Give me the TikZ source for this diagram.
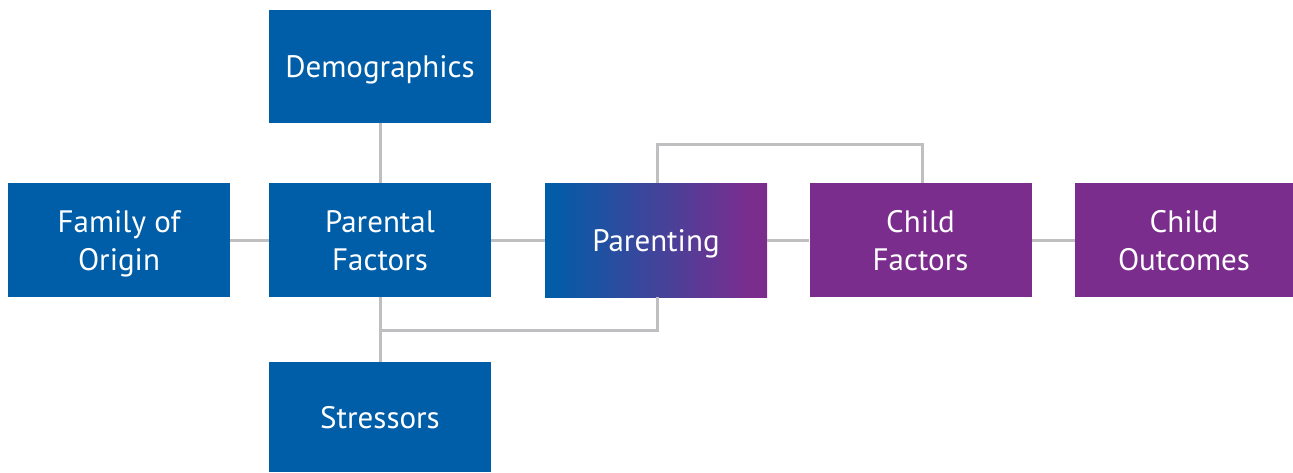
\documentclass[tikz,border=0pt]{standalone}
\usepackage{fontspec}
\setmainfont{PT Sans}
\definecolor{boxblue}{HTML}{005DA8}
\definecolor{boxpurple}{HTML}{7B2D8E}
\definecolor{linegray}{HTML}{BFBFC1}
% blue-to-purple fade across the Parenting box (25bp..75bp spans the box)
\pgfdeclarehorizontalshading{parentshade}{100bp}{color(0bp)=(boxblue); color(26bp)=(boxblue); color(71bp)=(boxpurple); color(100bp)=(boxpurple)}
\tikzset{
  box/.style={rectangle, inner sep=0pt, minimum width=222pt, minimum height=114pt,
    text=white, font=\fontsize{31}{38}\selectfont, align=center},
  % one line of text: capitals centred in the box
  oneline/.style={text height=22pt, text depth=0pt},
  % two lines of text: from the top of the first capitals to the last baseline
  twoline/.style={text height=60pt, text depth=0pt},
  bluebox/.style={box, fill=boxblue},
  purplebox/.style={box, fill=boxpurple},
  link/.style={draw=linegray, line width=3pt}
}
\begin{document}
\begin{tikzpicture}[x=1pt, y=-1pt]
\useasboundingbox (0,0) rectangle (1293,472);
\coordinate (upL) at (657,144);
\coordinate (upR) at (922,144);
\coordinate (lowL) at (380,330);
\coordinate (lowR) at (657,330);

\node[bluebox, oneline, minimum height=113pt] (demo) at (380,66.5) {Demographics};
\node[bluebox, twoline] (origin) at (119,240) {Family of\\Origin};
\node[bluebox, twoline] (parental) at (380,240) {Parental\\Factors};
\node[box, oneline, shading=parentshade] (parenting) at (656,240) {Parenting};
\node[purplebox, twoline] (cfactors) at (920.5,240) {Child\\Factors};
\node[purplebox, twoline, minimum width=218pt] (outcomes) at (1184,240) {Child\\Outcomes};
\node[bluebox, oneline, minimum height=110pt] (stress) at (380,417) {Stressors};

\draw[link] (demo.south) -- (parental.north);
\draw[link] (origin.east) -- (parental.west);
\draw[link] (parental.east) -- (parenting.west);
\draw[link] (parenting.east) -- (cfactors.west);
\draw[link] (cfactors.east) -- (outcomes.west);
\draw[link] (parental.south) -- (stress.north);
\draw[link] (parenting.north -| upL) -- (upL) -- (upR) -- (cfactors.north -| upR);
\draw[link] (lowL) -- (lowR) -- (parenting.south -| lowR);
\end{tikzpicture}
\end{document}
